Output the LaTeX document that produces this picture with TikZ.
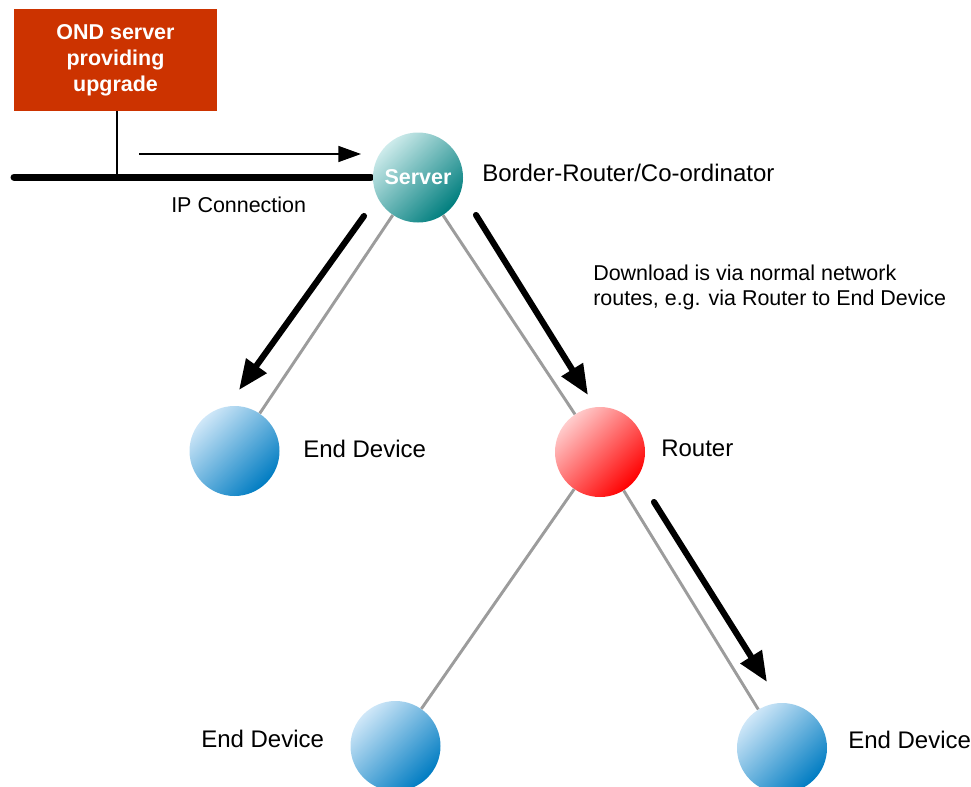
\documentclass[tikz,border=0pt]{standalone}
\usepackage{fontspec}
\setmainfont{Liberation Sans}
\usetikzlibrary{arrows.meta}
\definecolor{ondred}{HTML}{CC3300}
\definecolor{edlight}{HTML}{CFE7F8}
\definecolor{edmid}{HTML}{3FA0D6}
\definecolor{eddark}{HTML}{007CC2}
\definecolor{tllight}{HTML}{CDEBEB}
\definecolor{tlmid}{HTML}{339C9C}
\definecolor{tldark}{HTML}{007E7E}
\definecolor{rdlight}{HTML}{FFCCCC}
\definecolor{rdmid}{HTML}{FF3C3C}
\definecolor{rddark}{HTML}{FF0000}
\definecolor{linkgray}{HTML}{9C9C9C}
\begin{document}
\begin{tikzpicture}[x=0.75pt,y=0.75pt,
  ball/.style={circle, minimum size=67.5pt, inner sep=0pt, draw=none},
  enddev/.style={ball, top color=edlight, middle color=edmid, bottom color=eddark, shading angle=45},
  srvball/.style={ball, top color=tllight, middle color=tlmid, bottom color=tldark, shading angle=45},
  rtball/.style={ball, top color=rdlight, middle color=rdmid, bottom color=rddark, shading angle=45},
  link/.style={draw=linkgray, line width=2.2pt},
  flow/.style={draw=black, line width=4.6pt, line cap=round, -{Triangle[length=22.5pt,width=18pt]}},
  lbl/.style={anchor=base west, inner sep=0pt, font=\fontsize{18}{21}\selectfont},
  slbl/.style={anchor=base west, inner sep=0pt, font=\fontsize{16.1}{19.5}\selectfont},
  ondbox/.style={fill=ondred, minimum width=152.25pt, minimum height=76pt, inner sep=0pt, text=white, align=center, font=\bfseries\fontsize{16.1}{19.5}\selectfont}
]
\useasboundingbox (0,0) rectangle (971,-786);

% OND server box and IP connection
\node[ondbox] (ond) at (115.5,-60) {OND server\\providing\\upgrade};
\coordinate (tap) at (117,-177);
\coordinate (busL) at (14,-177);
\coordinate (busR) at (371,-177);
\draw[line width=1.1pt] (ond.south -| tap) -- (tap);
\draw[line width=5.25pt, line cap=round] (busL) -- (busR);
\coordinate (t1s) at (139,-154);
\coordinate (t1e) at (361,-154);
\draw[line width=1.1pt, -{Triangle[length=17pt,width=12pt]}] (t1s) -- (t1e);
\node[slbl] (ipc) at (171,-212) {IP Connection};

% nodes
\node[srvball] (srv) at (418,-177.5) {};
\node[text=white, font=\bfseries\fontsize{16.1}{19.5}\selectfont, anchor=base, inner sep=0pt] (srvtxt) at (418,-184) {Server};
\node[enddev] (ed1) at (234.5,-451) {};
\node[rtball] (rt) at (600,-452) {};
\node[enddev] (ed2) at (395.5,-746) {};
\node[enddev] (ed3) at (782,-748) {};

% links
\draw[link] (srv) -- (ed1);
\draw[link] (srv) -- (rt);
\draw[link] (rt) -- (ed2);
\draw[link] (rt) -- (ed3);

% flow arrows
\coordinate (a1s) at (364,-216);
\coordinate (a1e) at (239,-390);
\coordinate (a2s) at (476,-215);
\coordinate (a2e) at (588,-395);
\coordinate (a3s) at (654,-502);
\coordinate (a3e) at (767,-682);
\draw[flow] (a1s) -- (a1e);
\draw[flow] (a2s) -- (a2e);
\draw[flow] (a3s) -- (a3e);

% labels
\node[lbl] (brc) at (482,-181) {Border-Router/Co-ordinator};
\node[slbl] (dl1) at (593,-280) {Download is via normal network};
\node[slbl] (dl2) at (593,-305) {routes, e.g. via Router to End Device};
\node[lbl] (ed1l) at (303,-457) {End Device};
\node[lbl] (rtl) at (661,-456) {Router};
\node[lbl] (ed2l) at (201,-747) {End Device};
\node[lbl] (ed3l) at (848,-748) {End Device};
\end{tikzpicture}
\end{document}
